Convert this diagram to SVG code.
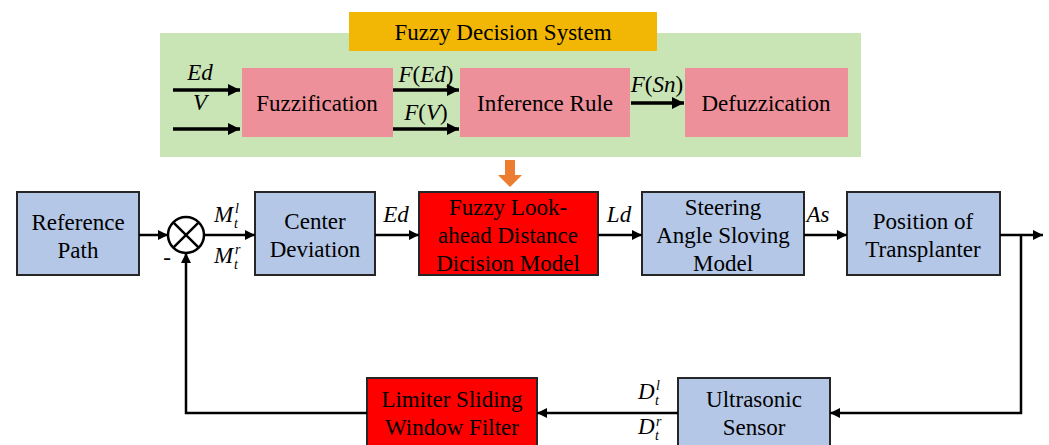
<svg xmlns="http://www.w3.org/2000/svg" width="1049" height="445" viewBox="0 0 1049 445">
<defs>
<marker id="ah" viewBox="0 0 10 10" refX="10" refY="5" markerWidth="10" markerHeight="10" markerUnits="userSpaceOnUse" orient="auto">
<path d="M0,0 L10,5 L0,10 z" fill="#000"/>
</marker>
<marker id="ahb" viewBox="0 0 10 10" refX="10" refY="5" markerWidth="12" markerHeight="12" markerUnits="userSpaceOnUse" orient="auto">
<path d="M0,0 L10,5 L0,10 z" fill="#000"/>
</marker>
</defs>
<style>
text{font-family:Liberation Serif, Times New Roman, Times, serif;font-size:23px;fill:#000;}
.c{text-anchor:middle;}
.i{font-style:italic;}
.s{font-size:14px;font-style:italic;}
.blue{fill:#b4c7e7;stroke:#262626;stroke-width:2;}
.red{fill:#ff0000;stroke:#262626;stroke-width:2;}
.pink{fill:#ee9099;}
.ln{fill:none;stroke:#000;stroke-width:2.5;}
.lnb{fill:none;stroke:#000;stroke-width:3.5;}
</style>
<rect width="1049" height="445" fill="#fff"/>

<g id="fuzzy-system">
<rect x="160" y="33" width="701" height="124" fill="#c9e4b5"/>
<rect x="349" y="12" width="308" height="39" fill="#f2b705"/>
<text class="c" x="503" y="40">Fuzzy Decision System</text>
</g>
<g id="fuzzification">
<rect class="pink" x="242" y="68" width="151" height="69"/>
<text class="c" x="317" y="111">Fuzzification</text>
</g>
<g id="inference">
<rect class="pink" x="460" y="68" width="170" height="69"/>
<text class="c" x="545" y="111">Inference Rule</text>
</g>
<g id="defuzz">
<rect class="pink" x="685" y="68" width="163" height="69"/>
<text class="c" x="766" y="111">Defuzzication</text>
</g>

<g id="reference-path">
<rect class="blue" x="17" y="192" width="122" height="83"/>
<text class="c" x="78" y="230">Reference</text>
<text class="c" x="78" y="258">Path</text>
</g>
<g id="sum">
<circle cx="186" cy="235" r="18" fill="#fff" stroke="#000" stroke-width="2.5"/>
<path d="M173.3,222.3 L198.7,247.7 M198.7,222.3 L173.3,247.7" stroke="#000" stroke-width="2.5"/>
<text class="c" x="167" y="265">-</text>
</g>
<g id="center-deviation">
<rect class="blue" x="255" y="192" width="120" height="83"/>
<text class="c" x="315" y="229">Center</text>
<text class="c" x="315" y="257">Deviation</text>
</g>
<g id="fuzzy-lookahead">
<rect class="red" x="419" y="192" width="179" height="83"/>
<text class="c" x="508" y="215">Fuzzy Look-</text>
<text class="c" x="508" y="243">ahead Distance</text>
<text class="c" x="508" y="271">Dicision Model</text>
</g>
<g id="steering">
<rect class="blue" x="642" y="192" width="162" height="83"/>
<text class="c" x="723" y="215">Steering</text>
<text class="c" x="723" y="243">Angle Sloving</text>
<text class="c" x="723" y="271">Model</text>
</g>
<g id="position">
<rect class="blue" x="847" y="192" width="153" height="83"/>
<text class="c" x="923" y="229">Position of</text>
<text class="c" x="923" y="257">Transplanter</text>
</g>
<g id="limiter">
<rect class="red" x="367" y="378" width="170" height="70"/>
<text class="c" x="452" y="407">Limiter Sliding</text>
<text class="c" x="452" y="435">Window Filter</text>
</g>
<g id="ultrasonic">
<rect class="blue" x="678" y="378" width="152" height="70"/>
<text class="c" x="754" y="407">Ultrasonic</text>
<text class="c" x="754" y="435">Sensor</text>
</g>

<g id="connectors">
<path class="lnb" d="M173,90 H240" marker-end="url(#ahb)"/>
<path class="lnb" d="M173,129 H240" marker-end="url(#ahb)"/>
<path class="lnb" d="M393,90 H459" marker-end="url(#ahb)"/>
<path class="lnb" d="M393,129 H459" marker-end="url(#ahb)"/>
<path class="lnb" d="M631,103 H684" marker-end="url(#ahb)"/>
<path d="M505,160 H515 V175 H522 L510,187 L498,175 H505 z" fill="#ed7d31"/>
<path class="ln" d="M139,235 H168" marker-end="url(#ah)"/>
<path class="ln" d="M204,235 H255" marker-end="url(#ah)"/>
<path class="ln" d="M375,235 H419" marker-end="url(#ah)"/>
<path class="ln" d="M598,235 H642" marker-end="url(#ah)"/>
<path class="ln" d="M804,235 H847" marker-end="url(#ah)"/>
<path class="ln" d="M1000,235 H1043" marker-end="url(#ah)"/>
<path class="ln" d="M1021,235 V413 H830" marker-end="url(#ah)"/>
<path class="ln" d="M678,413 H537" marker-end="url(#ah)"/>
<path class="ln" d="M367,413 H186 V253" marker-end="url(#ah)"/>
</g>

<g id="labels">
<text class="c i" x="200" y="80">Ed</text>
<text class="c i" x="200" y="110">V</text>
<text class="c" x="426" y="82"><tspan class="i">F</tspan>(<tspan class="i">Ed</tspan>)</text>
<text class="c" x="426" y="120"><tspan class="i">F</tspan>(<tspan class="i">V</tspan>)</text>
<text class="c" x="657" y="92"><tspan class="i">F</tspan>(<tspan class="i">Sn</tspan>)</text>
<text class="i" x="214" y="222">M</text>
<text class="s" x="235" y="213">l</text>
<text class="s" x="234" y="228">t</text>
<text class="i" x="214" y="263">M</text>
<text class="s" x="235" y="254">r</text>
<text class="s" x="234" y="269">t</text>
<text class="c i" x="396" y="222">Ed</text>
<text class="c i" x="619" y="222">Ld</text>
<text class="c i" x="818" y="222">As</text>
<text class="i" x="638" y="399">D</text>
<text class="s" x="656" y="390">l</text>
<text class="s" x="655" y="405">t</text>
<text class="i" x="638" y="434">D</text>
<text class="s" x="656" y="426">r</text>
<text class="s" x="655" y="440">t</text>
</g>
</svg>
